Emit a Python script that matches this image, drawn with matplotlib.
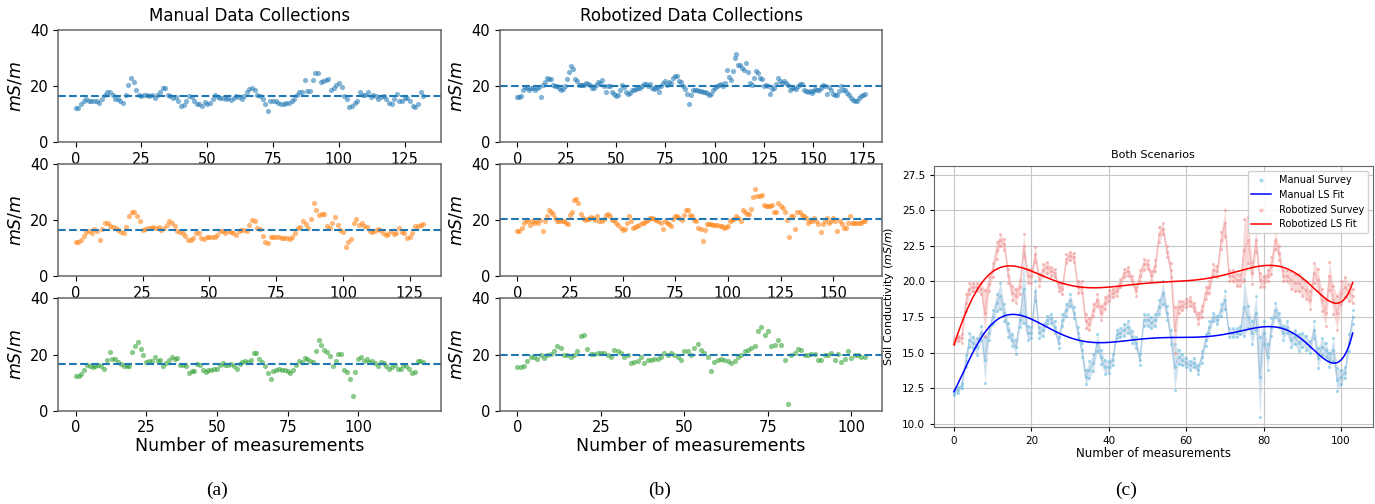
import numpy as np
import matplotlib
matplotlib.use("Agg")
import matplotlib.pyplot as plt

# ---- panel (a): manual data collections ----
manual_1 = [12.1, 12.2, 13.4, 14.8, 15.4, 14.6, 14.6, 14.6, 14.8, 13.9,
            15.4, 16.6, 18.0, 18.0, 16.8, 15.2, 15.2, 14.8, 14.0, 16.6,
            20.5, 22.8, 21.4, 18.7, 16.6, 16.4, 16.8, 16.8, 16.3, 16.8,
            15.8, 16.8, 17.8, 19.2, 19.2, 16.8, 16.3, 15.8, 16.0, 14.8,
            12.9, 13.2, 14.6, 16.4, 16.0, 14.5, 13.6, 13.4, 12.8, 14.2,
            13.6, 14.0, 15.4, 16.6, 16.0, 15.8, 15.8, 15.4, 15.8, 15.1,
            15.7, 16.4, 16.0, 15.4, 16.4, 17.8, 19.0, 19.3, 18.4, 16.8,
            16.3, 15.4, 13.4, 11.2, 14.5, 14.5, 14.5, 14.0, 13.4, 13.6,
            13.9, 14.0, 14.6, 15.4, 16.6, 17.8, 18.0, 22.2, 18.1, 18.1,
            22.2, 24.6, 24.6, 21.4, 21.9, 22.2, 22.5, 18.6, 19.3, 20.2,
            21.1, 19.6, 16.4, 15.4, 12.5, 12.8, 13.9, 14.5, 17.8, 16.8,
            16.8, 17.8, 16.0, 16.8, 16.4, 15.2, 16.0, 16.4, 15.2, 14.0,
            13.6, 15.4, 17.2, 14.5, 14.6, 15.7, 15.7, 14.8, 13.0, 12.5,
            13.4, 17.8, 16.3]
manual_2 = [12.3, 12.3, 12.9, 14.3, 15.9, 16.1, 15.5, 16.7, 16.1, 12.9,
            16.7, 18.9, 19.1, 17.9, 17.4, 17.1, 16.5, 15.9, 15.5, 17.4,
            21.5, 22.7, 23.0, 21.3, 19.5, 16.5, 16.7, 17.1, 17.1, 17.4,
            17.1, 17.4, 16.5, 17.1, 18.3, 19.5, 19.1, 17.7, 16.1, 15.9,
            15.5, 14.3, 12.9, 12.9, 13.5, 15.3, 15.3, 13.5, 13.1, 13.9,
            14.1, 14.1, 13.9, 14.7, 16.1, 16.1, 15.5, 16.1, 15.9, 15.3,
            14.7, 16.1, 16.5, 16.5, 16.1, 18.3, 20.1, 19.8, 17.3, 16.7,
            14.3, 12.3, 11.7, 13.9, 14.1, 13.9, 13.9, 13.7, 13.7, 13.5,
            13.1, 13.9, 15.5, 17.3, 17.4, 19.7, 18.6, 17.3, 20.3, 26.0,
            23.6, 21.9, 22.2, 22.2, 17.7, 17.1, 18.9, 20.9, 18.3, 16.5,
            15.9, 10.5, 12.0, 13.1, 18.9, 20.3, 18.3, 19.1, 17.7, 17.4,
            16.1, 15.9, 16.1, 16.8, 16.5, 15.5, 14.7, 15.0, 16.1, 15.0,
            15.3, 17.1, 15.9, 15.3, 13.5, 13.9, 15.3, 17.7, 17.9, 18.3,
            18.6]
manual_3 = [12.4, 12.5, 13.0, 14.6, 16.4, 15.8, 15.4, 15.8, 16.4, 16.0,
            14.8, 18.1, 20.8, 18.5, 18.5, 17.3, 16.6, 15.8, 16.0, 16.0,
            20.8, 22.9, 24.4, 22.0, 19.9, 17.3, 17.6, 17.8, 19.0, 17.8,
            18.1, 16.0, 17.0, 18.1, 19.3, 18.5, 18.7, 16.4, 16.4, 15.8,
            13.6, 14.2, 14.2, 16.6, 16.4, 14.6, 13.7, 14.6, 14.6, 14.8,
            14.9, 16.4, 17.0, 16.4, 16.4, 16.6, 16.0, 14.8, 16.6, 17.3,
            17.6, 17.3, 18.1, 20.5, 20.5, 18.5, 17.3, 16.0, 13.4, 11.2,
            14.2, 14.6, 14.8, 14.6, 14.6, 14.0, 13.4, 14.6, 16.4, 17.8,
            17.3, 18.7, 18.5, 17.6, 17.3, 21.4, 25.3, 23.3, 21.5, 20.8,
            19.6, 15.8, 17.8, 20.2, 20.2, 14.6, 13.7, 11.2, 5.4, 13.7,
            18.5, 19.3, 17.8, 18.5, 17.3, 17.6, 17.0, 16.0, 17.3, 17.0,
            16.1, 14.9, 15.4, 16.4, 14.9, 14.9, 16.4, 15.8, 14.9, 13.4,
            13.7, 17.6, 17.6, 17.3]

# ---- panel (b): robotized data collections ----
robot_1 = [16.0, 16.0, 16.3, 18.6, 19.6, 19.4, 18.6, 19.3, 19.3, 18.6,
           19.3, 19.6, 16.0, 20.2, 21.4, 22.9, 22.5, 22.5, 20.2, 19.8,
           19.8, 19.3, 18.6, 19.0, 19.8, 22.5, 24.9, 27.0, 26.1, 22.5,
           21.7, 20.2, 20.2, 20.4, 20.2, 21.0, 20.8, 20.5, 19.3, 19.3,
           20.2, 21.4, 21.0, 22.2, 19.8, 17.8, 19.8, 19.8, 17.8, 17.0,
           16.3, 16.6, 18.4, 20.2, 19.6, 17.8, 17.0, 17.4, 18.4, 18.6,
           19.0, 19.3, 19.3, 19.8, 20.8, 20.6, 19.8, 20.6, 19.3, 19.0,
           19.3, 19.6, 17.8, 19.8, 21.0, 21.6, 20.5, 21.4, 20.9, 22.9,
           23.4, 23.4, 21.7, 21.4, 19.8, 19.0, 17.2, 13.4, 16.6, 18.4,
           18.4, 18.4, 18.1, 18.1, 18.0, 17.8, 17.6, 16.8, 17.2, 18.4,
           19.3, 19.8, 20.2, 20.8, 19.8, 21.0, 25.7, 23.1, 22.2, 25.3,
           30.0, 31.4, 27.3, 27.3, 26.5, 25.5, 28.1, 24.9, 21.0, 20.2,
           22.9, 25.3, 24.6, 22.9, 22.5, 19.8, 20.2, 20.0, 17.2, 19.0,
           19.3, 20.8, 22.9, 21.9, 21.0, 21.9, 21.0, 20.2, 18.4, 19.3,
           19.3, 19.0, 19.8, 20.8, 20.6, 18.4, 18.1, 17.8, 18.1, 17.4,
           18.1, 19.0, 18.4, 18.4, 19.3, 20.5, 19.8, 17.2, 19.6, 18.6,
           17.0, 16.6, 16.6, 18.1, 19.8, 18.4, 18.6, 17.4, 16.6, 15.8,
           15.1, 14.8, 14.8, 15.8, 16.3, 16.6, 17.0]
robot_2 = [16.1, 16.1, 17.1, 18.9, 20.1, 19.5, 18.3, 19.7, 18.9, 19.7,
           18.9, 20.1, 16.2, 19.8, 21.3, 23.4, 23.0, 22.2, 20.7, 19.8,
           19.8, 19.5, 19.5, 19.1, 18.6, 21.9, 23.0, 27.0, 27.5, 26.0,
           22.2, 20.7, 20.1, 20.3, 20.3, 21.0, 20.7, 20.1, 21.3, 19.8,
           19.8, 20.3, 21.9, 22.2, 21.3, 20.1, 20.1, 19.1, 18.3, 17.1,
           16.5, 16.7, 19.1, 21.3, 19.8, 17.1, 17.4, 17.9, 18.3, 18.9,
           18.9, 19.8, 20.1, 20.7, 20.7, 20.3, 20.1, 19.8, 19.1, 16.7,
           19.5, 19.1, 18.6, 17.9, 20.3, 21.3, 21.5, 20.7, 20.1, 21.9,
           23.4, 23.6, 21.9, 21.3, 20.1, 19.5, 17.1, 16.7, 12.7, 16.5,
           18.6, 18.6, 18.6, 18.3, 18.3, 18.3, 17.9, 17.7, 17.1, 17.4,
           17.9, 19.5, 20.1, 20.3, 21.3, 20.7, 19.5, 23.4, 22.7, 22.2,
           22.2, 23.9, 28.1, 31.0, 28.4, 28.4, 29.0, 25.4, 25.1, 25.1,
           25.1, 25.4, 22.7, 23.0, 26.0, 25.1, 24.2, 23.0, 20.1, 13.9,
           21.3, 21.3, 16.7, 22.7, 22.7, 21.9, 21.3, 20.7, 19.1, 19.5,
           19.5, 20.7, 19.8, 18.6, 15.9, 18.6, 19.5, 20.7, 19.1, 19.8,
           20.7, 19.8, 16.2, 19.8, 18.6, 17.1, 17.1, 19.1, 21.3, 19.1,
           19.1, 19.1, 19.1, 19.1, 19.5, 19.5]
robot_3 = [15.4, 15.4, 15.8, 17.8, 19.3, 19.3, 18.5, 19.7, 18.7, 19.7,
           20.2, 21.4, 22.9, 22.3, 19.7, 19.9, 19.3, 19.7, 21.4, 26.7,
           27.1, 22.0, 20.2, 20.2, 20.5, 20.5, 20.5, 19.7, 19.3, 21.7,
           21.4, 20.5, 19.3, 19.7, 17.0, 17.3, 17.8, 19.3, 17.0, 18.1,
           18.1, 18.5, 18.5, 19.0, 20.5, 19.9, 20.5, 19.7, 19.0, 18.1,
           21.4, 21.2, 19.9, 22.3, 23.8, 21.7, 20.5, 19.0, 14.2, 17.3,
           18.1, 18.5, 18.1, 17.8, 17.0, 17.8, 19.3, 19.9, 21.2, 21.7,
           22.3, 22.9, 28.3, 29.7, 27.1, 28.5, 22.9, 23.5, 25.3, 23.3,
           18.1, 2.3, 19.7, 20.5, 22.1, 21.7, 19.9, 19.9, 20.2, 20.2,
           18.1, 18.1, 19.7, 19.7, 20.5, 18.1, 20.2, 17.3, 18.5, 21.4,
           18.7, 19.7, 19.7, 19.3, 19.3]

manual_sets = [manual_1, manual_2, manual_3]
robot_sets = [robot_1, robot_2, robot_3]
set_colors = ["tab:blue", "tab:orange", "tab:green"]

# ---- panel (c): both scenarios, mean per measurement and band half-width ----
both_manual = [12.2, 12.4, 12.7, 14.4, 15.9, 15.7, 15.4, 16.4, 14.5, 16.4,
               17.5, 18.5, 19.0, 17.8, 16.6, 15.9, 15.4, 17.3, 19.5, 16.4,
               16.4, 19.3, 16.4, 16.6, 17.3, 17.4, 16.8, 15.7, 17.3, 18.0,
               18.7, 17.8, 16.4, 15.2, 13.3, 13.8, 14.3, 15.7, 14.7, 14.0,
               14.0, 14.5, 16.3, 16.4, 16.6, 16.8, 16.1, 15.7, 14.5, 17.3,
               17.3, 17.1, 17.3, 18.2, 19.2, 17.8, 16.1, 14.0, 14.7, 14.5,
               14.3, 14.1, 14.3, 13.8, 14.7, 15.9, 16.8, 17.5, 17.3, 18.0,
               18.7, 16.4, 16.4, 16.4, 16.6, 18.2, 17.5, 16.4, 17.8, 13.3,
               16.4, 14.7, 16.8, 18.0, 17.3, 16.4, 16.8, 15.9, 16.1, 15.7,
               15.9, 15.7, 15.4, 16.6, 14.6, 15.4, 15.2, 14.5, 15.2, 13.1,
               13.3, 13.6, 15.7, 17.5]
both_manual_spread = [0.2, 0.2, 0.2, 0.4, 0.5, 0.4, 0.6, 0.5, 1.6, 0.5,
                      0.5, 0.6, 0.9, 0.6, 0.5, 0.4, 0.5, 0.5, 2.4, 0.5,
                      0.4, 0.7, 0.4, 0.4, 0.3, 0.3, 0.4, 0.4, 0.4, 0.4,
                      0.4, 0.4, 0.4, 0.5, 0.5, 0.6, 0.6, 0.6, 0.5, 0.5,
                      0.4, 0.4, 0.3, 0.3, 0.4, 0.4, 0.4, 0.4, 0.4, 0.4,
                      0.4, 0.4, 0.4, 0.5, 0.8, 0.5, 0.5, 1.6, 0.5, 0.4,
                      0.3, 0.3, 0.3, 0.3, 0.4, 0.4, 0.4, 0.3, 0.3, 0.4,
                      0.6, 0.3, 0.3, 0.3, 0.3, 2.0, 0.8, 0.8, 1.2, 2.8,
                      0.8, 0.9, 0.6, 0.5, 0.5, 0.5, 0.4, 0.5, 0.5, 0.6,
                      0.5, 0.5, 0.4, 0.6, 0.7, 0.6, 0.5, 0.5, 0.8, 0.8,
                      0.5, 0.4, 0.6, 0.5]
both_robot = [15.8, 16.0, 16.0, 18.5, 19.5, 19.6, 19.6, 19.5, 17.8, 19.8,
              20.8, 22.2, 22.9, 22.6, 20.4, 19.2, 19.0, 19.6, 22.5, 20.4,
              20.4, 21.9, 20.1, 20.8, 21.0, 20.7, 20.6, 19.6, 19.5, 21.6,
              21.8, 21.7, 19.6, 19.6, 17.2, 17.0, 18.0, 18.7, 17.8, 18.5,
              19.0, 19.2, 19.3, 19.9, 20.6, 20.7, 20.1, 19.3, 20.4, 21.2,
              21.2, 20.4, 21.1, 23.3, 23.7, 22.1, 20.8, 16.6, 18.2, 18.3,
              18.5, 18.6, 18.2, 17.4, 17.9, 19.2, 19.6, 20.8, 20.7, 22.9,
              24.1, 20.4, 20.4, 20.1, 20.1, 22.2, 22.9, 20.6, 22.9, 20.1,
              20.0, 20.4, 21.1, 22.9, 22.0, 20.4, 20.4, 20.1, 19.9, 19.9,
              19.6, 19.4, 18.7, 20.6, 20.1, 18.7, 17.8, 20.4, 18.7, 17.8,
              19.2, 19.6, 19.2, 19.0]
both_robot_spread = [0.2, 0.2, 0.3, 0.6, 0.4, 0.3, 0.3, 0.4, 1.6, 0.5,
                     0.5, 0.6, 0.4, 0.4, 0.5, 0.5, 0.5, 0.5, 0.8, 0.5,
                     0.5, 0.5, 0.4, 0.4, 0.4, 0.3, 0.3, 0.3, 0.4, 0.3,
                     0.3, 0.3, 0.4, 0.4, 0.5, 0.4, 0.4, 0.4, 0.5, 0.4,
                     0.4, 0.3, 0.3, 0.3, 0.3, 0.3, 0.3, 0.3, 0.4, 0.4,
                     0.3, 0.3, 0.4, 0.5, 0.4, 0.4, 0.5, 1.6, 0.4, 0.3,
                     0.3, 0.3, 0.3, 0.4, 0.4, 0.4, 0.4, 0.4, 0.4, 0.6,
                     0.9, 0.4, 0.4, 0.4, 0.4, 2.2, 1.6, 0.8, 0.8, 0.5,
                     0.4, 0.4, 0.6, 0.6, 0.5, 0.4, 0.4, 0.6, 0.6, 0.6,
                     0.6, 0.6, 0.6, 0.7, 0.8, 0.8, 0.9, 1.0, 1.0, 1.2,
                     0.8, 0.7, 0.6, 0.5]
fit_degree = 8

fig = plt.figure(figsize=(13.75, 5.04), dpi=100)

ax_w, ax_h = 0.278, 0.223
rows_bottom = [0.718, 0.452, 0.185]
col_left = [0.0424, 0.3636]


def style_small(ax, n):
    ax.set_ylim(0, 40)
    ax.set_yticks([0, 20, 40])
    # ticks every 25 samples, only up to the last sample index
    ax.set_xticks(np.arange(0, n, 25))
    ax.tick_params(labelsize=10.5)
    for sp in ax.spines.values():
        sp.set_color("0.4")
        sp.set_linewidth(1.1)
    ax.set_ylabel("$mS/m$", fontsize=12.5)


for col, (sets, title) in enumerate([(manual_sets, "Manual Data Collections"),
                                      (robot_sets, "Robotized Data Collections")]):
    for row, vals in enumerate(sets):
        ax = fig.add_axes([col_left[col], rows_bottom[row], ax_w, ax_h])
        x = np.arange(len(vals))
        ax.scatter(x, vals, s=14, color=set_colors[row], alpha=0.55, linewidths=0)
        ax.axhline(np.mean(vals), color="tab:blue", linestyle="--", linewidth=1.5)
        style_small(ax, len(vals))
        if row == 0:
            ax.set_title(title, fontsize=12)
        if row == 2:
            ax.set_xlabel("Number of measurements", fontsize=12.5, labelpad=1)

# ---- panel (c) ----
axc = fig.add_axes([0.6793, 0.1534, 0.319, 0.517])
xc = np.arange(len(both_manual))
series = [
    (both_manual, both_manual_spread, "#4ab3df", "#9cc0dc", "blue", "Manual"),
    (both_robot, both_robot_spread, "#f08080", "#f2aaaa", "red", "Robotized"),
]
for mean, spread, pt_col, band_col, fit_col, name in series:
    mean = np.array(mean)
    spread = np.array(spread)
    lo, hi = mean - spread, mean + spread
    axc.fill_between(xc, lo, hi, color=band_col, alpha=0.45, linewidth=0)
    axc.plot(xc, mean, color=band_col, linewidth=0.8, alpha=0.8)
    pts_x = np.concatenate([xc, xc, xc])
    pts_y = np.concatenate([lo, mean, hi])
    axc.scatter(pts_x, pts_y, s=5, color=pt_col, alpha=0.5, linewidths=0,
                label=f"{name} Survey")
    coef = np.polyfit(xc / xc.max(), mean, fit_degree)
    xs = np.linspace(0, xc.max(), 300)
    axc.plot(xs, np.polyval(coef, xs / xc.max()), color=fit_col, linewidth=1.1,
             label=f"{name} LS Fit")

axc.set_ylim(9.8, 28.1)
axc.set_yticks([10.0, 12.5, 15.0, 17.5, 20.0, 22.5, 25.0, 27.5])
axc.set_xticks([0, 20, 40, 60, 80, 100])
axc.grid(True, color="0.78", linewidth=0.8)
axc.set_axisbelow(True)
axc.tick_params(labelsize=7.5, length=3)
for sp in axc.spines.values():
    sp.set_color("0.4")
axc.set_title("Both Scenarios", fontsize=8)
axc.set_xlabel("Number of measurements", fontsize=8.5, labelpad=1)
axc.set_ylabel("Soil Conductivity ($mS/m$)", fontsize=8)
axc.legend(loc="upper right", fontsize=7, markerscale=1.3, framealpha=0.9)

# panel letters
for xpos, lab in [(0.158, "(a)"), (0.480, "(b)"), (0.819, "(c)")]:
    fig.text(xpos, 0.028, lab, ha="center", va="center", fontsize=14,
             family="Liberation Serif")

fig.savefig("out.png", dpi=100)
